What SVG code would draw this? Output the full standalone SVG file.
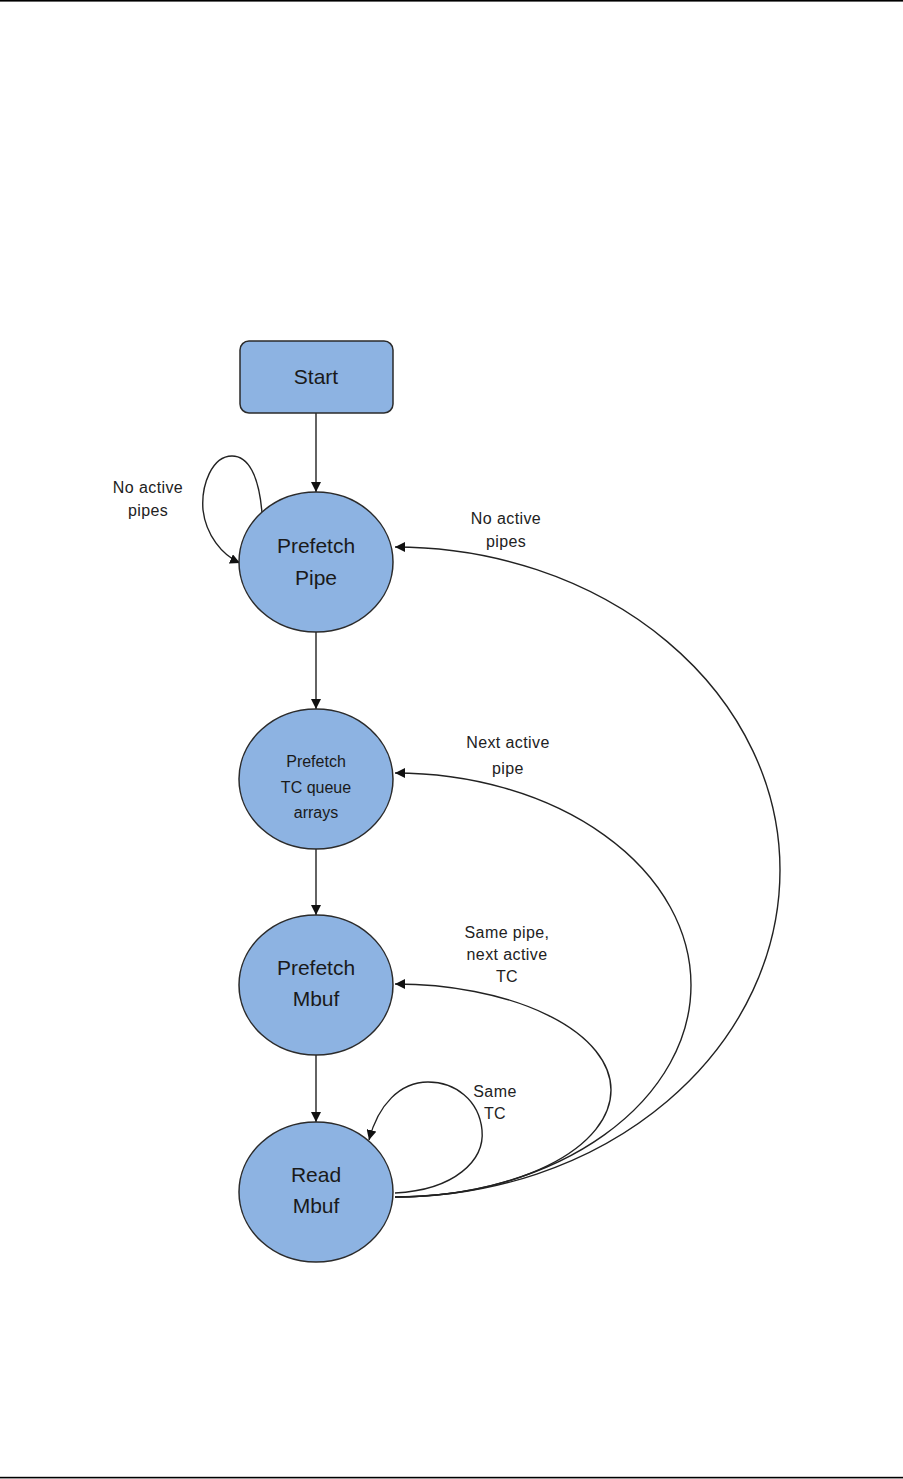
<svg xmlns="http://www.w3.org/2000/svg" width="903" height="1479" viewBox="0 0 903 1479">
<style>
.node{fill:#8DB3E2;stroke:#2b2b2b;stroke-width:1.5}
.nt{font-family:"Liberation Sans",Arial,sans-serif;font-size:21px;fill:#1a1a1a;text-anchor:middle}
.nts{font-family:"Liberation Sans",Arial,sans-serif;font-size:16px;fill:#1a1a1a;text-anchor:middle}
.lb{font-family:"Liberation Sans",Arial,sans-serif;font-size:16px;fill:#222;text-anchor:middle;letter-spacing:0.4px}
.cn{fill:none;stroke:#222;stroke-width:1.4}
</style>
<defs>
<marker id="ah" viewBox="0 0 10 10" refX="10" refY="5" markerWidth="10" markerHeight="10" markerUnits="userSpaceOnUse" orient="auto">
<path d="M0,0 L10,5 L0,10 z" fill="#111"/>
</marker>
</defs>
<rect x="0" y="0" width="903" height="1.6" fill="#000"/>
<rect x="0" y="1476.8" width="903" height="1.6" fill="#000"/>
<g id="connectors">
<line class="cn" x1="316" y1="413" x2="316" y2="492" marker-end="url(#ah)"/>
<line class="cn" x1="316" y1="632" x2="316" y2="709" marker-end="url(#ah)"/>
<line class="cn" x1="316" y1="849" x2="316" y2="915" marker-end="url(#ah)"/>
<line class="cn" x1="316" y1="1055" x2="316" y2="1122" marker-end="url(#ah)"/>
<path class="cn" d="M262,513 C259,475 248,456 232,456 C212,456 201,485 203,510 C206,535 222,555 240,563" marker-end="url(#ah)"/>
<path class="cn" d="M395,1197 A385,327 0 0 0 780,870 A385,323 0 0 0 395,547" marker-end="url(#ah)"/>
<path class="cn" d="M395,1197 A296,212 0 0 0 691,985 A296,212 0 0 0 395,773" marker-end="url(#ah)"/>
<path class="cn" d="M395,1197 A216,107 0 0 0 611,1090 A216,106 0 0 0 395,984" marker-end="url(#ah)"/>
<path class="cn" d="M395,1193 C455,1190 485,1160 482,1130 C479,1100 455,1082 428,1082 C400,1082 378,1105 369,1140" marker-end="url(#ah)"/>
</g>
<g id="labels">
<text class="lb" x="148" y="493">No active</text>
<text class="lb" x="148" y="516">pipes</text>
<text class="lb" x="506" y="524">No active</text>
<text class="lb" x="506" y="547">pipes</text>
<text class="lb" x="508" y="748">Next active</text>
<text class="lb" x="508" y="774">pipe</text>
<text class="lb" x="507" y="938">Same pipe,</text>
<text class="lb" x="507" y="960">next active</text>
<text class="lb" x="507" y="982">TC</text>
<text class="lb" x="495" y="1097">Same</text>
<text class="lb" x="495" y="1119">TC</text>
</g>
<g id="start">
<rect class="node" x="240" y="341" width="153" height="72" rx="9"/>
<text class="nt" x="316" y="384">Start</text>
</g>
<g id="prefetch-pipe">
<ellipse class="node" cx="316" cy="562" rx="77" ry="70"/>
<text class="nt" x="316" y="553">Prefetch</text>
<text class="nt" x="316" y="585">Pipe</text>
</g>
<g id="prefetch-tc">
<ellipse class="node" cx="316" cy="779" rx="77" ry="70"/>
<text class="nts" x="316" y="767">Prefetch</text>
<text class="nts" x="316" y="793">TC queue</text>
<text class="nts" x="316" y="818">arrays</text>
</g>
<g id="prefetch-mbuf">
<ellipse class="node" cx="316" cy="985" rx="77" ry="70"/>
<text class="nt" x="316" y="975">Prefetch</text>
<text class="nt" x="316" y="1006">Mbuf</text>
</g>
<g id="read-mbuf">
<ellipse class="node" cx="316" cy="1192" rx="77" ry="70"/>
<text class="nt" x="316" y="1182">Read</text>
<text class="nt" x="316" y="1213">Mbuf</text>
</g>
</svg>
